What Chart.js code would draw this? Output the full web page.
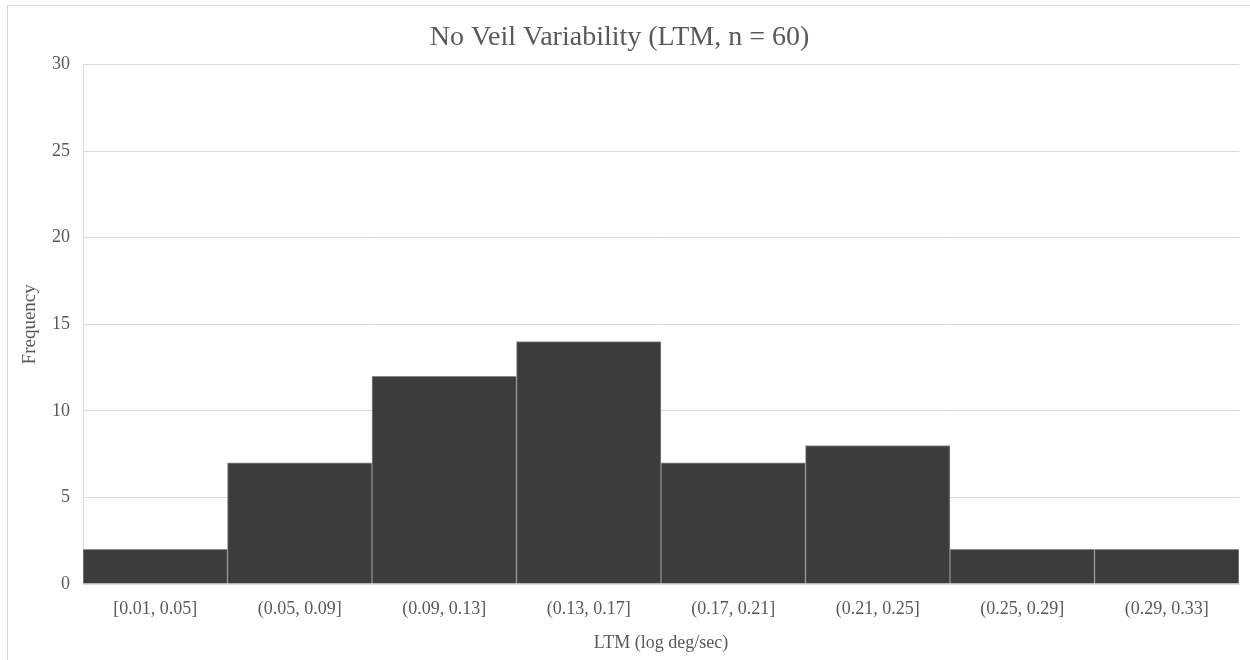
<!DOCTYPE html>
<html lang="en">
<head>
    <meta charset="UTF-8">
    <title>No Veil Variability</title>
    <script src="https://cdn.jsdelivr.net/npm/chart.js"></script>
    <style>
        body { margin: 0; background: #fff; }
        .frame { position: absolute; left: 7px; top: 5px; width: 1300px; height: 700px; border: 1px solid #d9d9d9; }
        .wrap { position: absolute; left: 0; top: 0; width: 1250px; height: 660px; }
    </style>
</head>
<body>
    <div class="frame"></div>
    <div class="wrap"><canvas id="chart" width="1250" height="660"></canvas></div>
    <script>
        const bins = ['[0.01, 0.05]', '(0.05, 0.09]', '(0.09, 0.13]', '(0.13, 0.17]', '(0.17, 0.21]', '(0.21, 0.25]', '(0.25, 0.29]', '(0.29, 0.33]'];
        const frequency = [2, 7, 12, 14, 7, 8, 2, 2];

        const serif = "'Liberation Serif', 'Times New Roman', serif";
        const grey = '#595959';

        new Chart(document.getElementById('chart'), {
            type: 'bar',
            data: {
                labels: bins,
                datasets: [{
                    label: 'Frequency',
                    data: frequency,
                    backgroundColor: '#3c3c3c',
                    borderColor: '#8c8c8c',
                    borderWidth: 1,
                    barPercentage: 1,
                    categoryPercentage: 1
                }]
            },
            options: {
                responsive: false,
                animation: false,
                layout: { padding: { left: 0, right: 11, top: 0, bottom: 0 } },
                plugins: {
                    legend: { display: false },
                    tooltip: { enabled: false },
                    title: {
                        display: true,
                        text: 'No Veil Variability (LTM, n = 60)',
                        color: grey,
                        font: { family: serif, size: 28, weight: 'normal' },
                        padding: { top: 21, bottom: 10 }
                    }
                },
                scales: {
                    x: {
                        grid: { display: false, drawTicks: false },
                        border: { color: '#d9d9d9' },
                        ticks: { color: grey, font: { family: serif, size: 18 }, padding: 14, maxRotation: 0 },
                        title: { display: true, text: 'LTM (log deg/sec)', color: grey, font: { family: serif, size: 18 }, padding: { top: 4, bottom: 6 } },
                        afterFit: s => { s.height = 76; }
                    },
                    y: {
                        min: 0,
                        max: 30,
                        ticks: { stepSize: 5, color: grey, font: { family: serif, size: 18 }, padding: 13 },
                        grid: { color: '#d9d9d9', drawTicks: false },
                        border: { display: true, color: '#d9d9d9' },
                        title: { display: true, text: 'Frequency', color: grey, font: { family: serif, size: 19 }, padding: { top: 19, bottom: 4 } },
                        afterFit: s => { s.width = 83; }
                    }
                }
            }
        });
    </script>
</body>
</html>
